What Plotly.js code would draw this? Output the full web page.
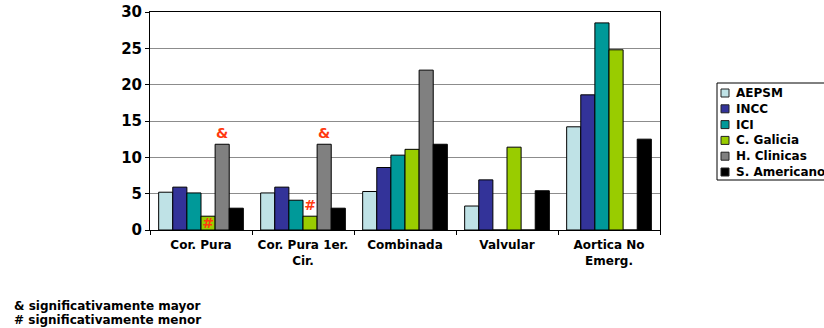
<!DOCTYPE html>
<html>
<head>
<meta charset="utf-8">
<script src="https://cdn.plot.ly/plotly-3.0.1.min.js"></script>
<style>
  html, body { margin: 0; padding: 0; background: #fff; }
  #chart { width: 824px; height: 328px; }
</style>
</head>
<body>
<div id="chart"></div>
<script>
// Surgical categories (x axis)
const categories = ["Cor. Pura", "Cor. Pura 1er.<br>Cir.", "Combinada", "Valvular", "Aortica No<br>Emerg."];

// Series values per centre
const aepsm      = [5.2, 5.1, 5.3, 3.3, 14.2];
const incc       = [5.9, 5.9, 8.6, 6.9, 18.6];
const ici        = [5.1, 4.1, 10.3, 0, 28.5];
const cGalicia   = [1.9, 1.9, 11.1, 11.4, 24.8];
const hClinicas  = [11.8, 11.8, 22.0, 0, 0];
const sAmericano = [3.0, 3.0, 11.8, 5.4, 12.5];

// Significance marks
const marksMayor = ["&", "&", "", "", ""];
const marksMenor = ["#", "#", "", "", ""];

// Footnote lines
const footnotes = ["& significativamente mayor", "# significativamente menor"];

const seriesNames = ["AEPSM", "INCC", "ICI", "C. Galicia", "H. Clinicas", "S. Americano"];
const seriesValues = [aepsm, incc, ici, cGalicia, hClinicas, sAmericano];
const seriesColors = ["#BFE2E6", "#333399", "#009999", "#99CC00", "#808080", "#000000"];

const FAMILY = "DejaVu Sans, Liberation Sans, Arial, sans-serif";
const markFont = { family: FAMILY, size: 14, color: "#FF3A10", weight: "bold" };
const boldFont = { family: FAMILY, size: 12, color: "#000", weight: "bold" };

// Figure geometry
const W = 824, H = 328;
const M = { l: 150, r: 164, t: 12, b: 98 };
const plotW = W - M.l - M.r, plotH = H - M.t - M.b;
const px = v => (v - M.l) / plotW;      // pixel x -> paper x
const py = v => 1 - (v - M.t) / plotH;  // pixel y -> paper y

const traces = seriesNames.map((name, i) => {
  const t = {
    type: "bar",
    name: name,
    x: categories,
    y: seriesValues[i],
    marker: { color: seriesColors[i], line: { color: "#000", width: 1 } },
    hoverinfo: "x+y+name",
    cliponaxis: false,
    showlegend: false
  };
  if (name === "H. Clinicas") {
    t.text = marksMayor;
    t.textposition = "outside";
    t.outsidetextfont = markFont;
    t.constraintext = "none";
  }
  if (name === "C. Galicia") {
    t.text = marksMenor;
    t.textposition = ["inside", "outside", "none", "none", "none"];
    t.insidetextfont = markFont;
    t.outsidetextfont = markFont;
    t.insidetextanchor = "middle";
    t.textangle = 0;
    t.constraintext = "none";
  }
  return t;
});

// Legend box drawn as shapes + annotations for compact row spacing
const legendTop = 83, legendBottom = 180, legendLeft = 717;
const rowStart = 93, rowStep = 15.8;
const shapes = [{
  type: "rect", xref: "paper", yref: "paper",
  x0: px(legendLeft), x1: px(W + 10), y0: py(legendTop), y1: py(legendBottom),
  line: { color: "#000", width: 1 }, fillcolor: "rgba(0,0,0,0)"
}];
const annotations = [];
seriesNames.forEach((name, i) => {
  const cy = rowStart + i * rowStep;
  shapes.push({
    type: "rect", xref: "paper", yref: "paper",
    x0: px(721), x1: px(729), y0: py(cy + 4), y1: py(cy - 4),
    line: { color: "#222", width: 1 }, fillcolor: seriesColors[i]
  });
  annotations.push({
    xref: "paper", yref: "paper", x: px(734), y: py(cy),
    xanchor: "left", yanchor: "middle", showarrow: false,
    text: name, font: boldFont
  });
});

// Footnote, one annotation per line
footnotes.forEach((line, i) => {
  annotations.push({
    xref: "paper", yref: "paper",
    x: px(12), y: py(306 + i * 13.5),
    xanchor: "left", yanchor: "middle",
    showarrow: false,
    text: line,
    font: boldFont
  });
});

const layout = {
  width: W,
  height: H,
  margin: M,
  paper_bgcolor: "#fff",
  plot_bgcolor: "#fff",
  barmode: "group",
  bargap: 0.17,
  bargroupgap: 0,
  showlegend: false,
  xaxis: {
    type: "category",
    showline: true, linecolor: "#000", linewidth: 1, mirror: true,
    ticks: "outside", ticklen: 4, tickcolor: "#000",
    tickson: "boundaries",
    ticklabelstandoff: 4,
    tickfont: boldFont,
    showgrid: false
  },
  yaxis: {
    range: [0, 30],
    dtick: 5,
    showline: true, linecolor: "#000", linewidth: 1, mirror: true,
    ticks: "outside", ticklen: 4, tickcolor: "#000",
    gridcolor: "#8c8c8c", gridwidth: 1,
    zeroline: false,
    tickfont: { family: FAMILY, size: 15, color: "#000", weight: "bold" }
  },
  shapes: shapes,
  annotations: annotations
};

Plotly.newPlot("chart", traces, layout, { displayModeBar: false, staticPlot: true });
</script>
</body>
</html>
